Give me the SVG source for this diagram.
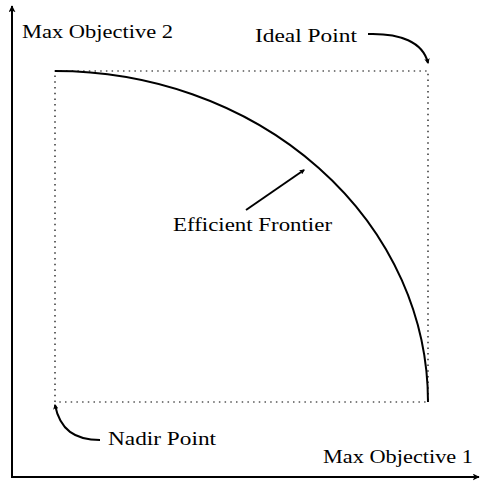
<svg xmlns="http://www.w3.org/2000/svg" width="480" height="483" viewBox="0 0 480 483">
  <style>
    .lbl { font-family: "Liberation Serif", "Times New Roman", serif; font-size: 18.5px; fill: #000; }
    .axis { stroke: #000; stroke-width: 2; fill: none; }
    .guide { stroke: #000; stroke-width: 1.2; fill: none; stroke-dasharray: 1.5 4.2; }
    .front { stroke: #000; stroke-width: 2; fill: none; }
    .ptr { stroke: #000; stroke-width: 2; fill: none; marker-end: url(#tip); }
  </style>
  <defs>
    <marker id="tip" viewBox="0 0 10 10" refX="8" refY="5" markerWidth="5.5" markerHeight="5.5" markerUnits="userSpaceOnUse" orient="auto">
      <path d="M0,0 L10,5 L0,10 L2.5,5 Z" fill="#000"/>
    </marker>
    <marker id="axtip" viewBox="0 0 10 10" refX="9" refY="5" markerWidth="7" markerHeight="7" markerUnits="userSpaceOnUse" orient="auto">
      <path d="M0,0 L10,5 L0,10 L2.5,5 Z" fill="#000"/>
    </marker>
  </defs>

  <!-- axes -->
  <g id="axes">
    <path class="axis" d="M12,477 L12,6" marker-end="url(#axtip)"/>
    <path class="axis" d="M11,477 L479,477" marker-end="url(#axtip)"/>
  </g>

  <!-- dotted bounding box from nadir to ideal point -->
  <g id="bounds">
    <path class="guide" d="M55,402 L55,71 L428,71 L428,402 L55,402"/>
  </g>

  <!-- efficient frontier curve -->
  <g id="frontier">
    <path class="front" d="M55,71 A373,331 0 0 1 428,402"/>
  </g>

  <!-- pointer arrows -->
  <g id="connectors">
    <path class="ptr" d="M368,34 C400,33 423,42 428,63"/>
    <path class="ptr" d="M100,440 C75,440 60,430 55,405"/>
    <path class="ptr" d="M246,210 L304,170"/>
  </g>

  <g id="label-obj2"><text class="lbl" x="22" y="38" textLength="151" lengthAdjust="spacingAndGlyphs">Max Objective 2</text></g>
  <g id="label-ideal"><text class="lbl" x="255" y="42" textLength="102" lengthAdjust="spacingAndGlyphs">Ideal Point</text></g>
  <g id="label-frontier"><text class="lbl" x="173" y="231" textLength="159" lengthAdjust="spacingAndGlyphs">Efficient Frontier</text></g>
  <g id="label-nadir"><text class="lbl" x="108" y="445" textLength="108" lengthAdjust="spacingAndGlyphs">Nadir Point</text></g>
  <g id="label-obj1"><text class="lbl" x="323" y="463" textLength="150" lengthAdjust="spacingAndGlyphs">Max Objective 1</text></g>
</svg>
